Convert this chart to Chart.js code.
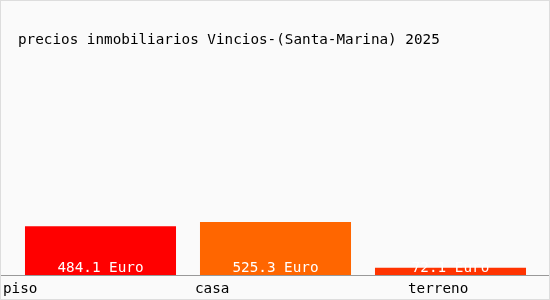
<!DOCTYPE html>
<html>
<head>
<meta charset="utf-8">
<script src="https://cdn.jsdelivr.net/npm/chart.js@4"></script>
<style>
  html, body { margin: 0; padding: 0; background: #fafafa; }
  #wrap { width: 548px; height: 298px; border: 1px solid #dddddd; position: relative; }
  canvas { display: block; }
</style>
</head>
<body>
<div id="wrap"><canvas id="chart" width="548" height="298"></canvas></div>
<script>
// datos del grafico
const categorias = ['piso', 'casa', 'terreno'];
const precios = [484.1, 525.3, 72.1];
const colores = ['#ff0000', '#ff6600', '#ff3300'];
const titulo = 'precios inmobiliarios Vincios-(Santa-Marina) 2025';

const fuente = '14.3px "DejaVu Sans Mono", monospace';
// posicion izquierda de cada etiqueta del eje x
const etiquetaX = [2, 194, 407];

// dibuja titulo, linea base, etiquetas y valores
const decoracion = {
    id: 'decoracion',
    afterDatasetsDraw(chart) {
        const ctx = chart.ctx;
        const area = chart.chartArea;
        const meta = chart.getDatasetMeta(0);
        ctx.save();
        ctx.font = fuente;

        // titulo
        ctx.fillStyle = '#000000';
        ctx.textAlign = 'left';
        ctx.textBaseline = 'middle';
        ctx.fillText(titulo, 17, 39);

        // valores dentro de las barras
        ctx.fillStyle = '#ffffff';
        ctx.textAlign = 'center';
        meta.data.forEach((bar, i) => {
            ctx.fillText(precios[i].toFixed(1) + ' Euro', bar.x, area.bottom - 7);
        });

        // linea base
        ctx.strokeStyle = '#999999';
        ctx.lineWidth = 1;
        ctx.beginPath();
        ctx.moveTo(0, area.bottom + 0.5);
        ctx.lineTo(chart.width, area.bottom + 0.5);
        ctx.stroke();

        // etiquetas de categoria
        ctx.fillStyle = '#000000';
        ctx.textAlign = 'left';
        categorias.forEach((c, i) => {
            ctx.fillText(c, etiquetaX[i], area.bottom + 14);
        });
        ctx.restore();
    }
};

new Chart(document.getElementById('chart'), {
    type: 'bar',
    data: {
        labels: categorias,
        datasets: [{
            data: precios,
            backgroundColor: colores,
            borderWidth: 0,
            barPercentage: 0.863,
            categoryPercentage: 1.0
        }]
    },
    options: {
        responsive: false,
        animation: false,
        layout: { padding: { left: 12, right: 11, top: 59, bottom: 24 } },
        plugins: { legend: { display: false }, tooltip: { enabled: false } },
        scales: {
            x: { display: false },
            y: { display: false, min: 0, max: 2130 }
        }
    },
    plugins: [decoracion]
});
</script>
</body>
</html>
